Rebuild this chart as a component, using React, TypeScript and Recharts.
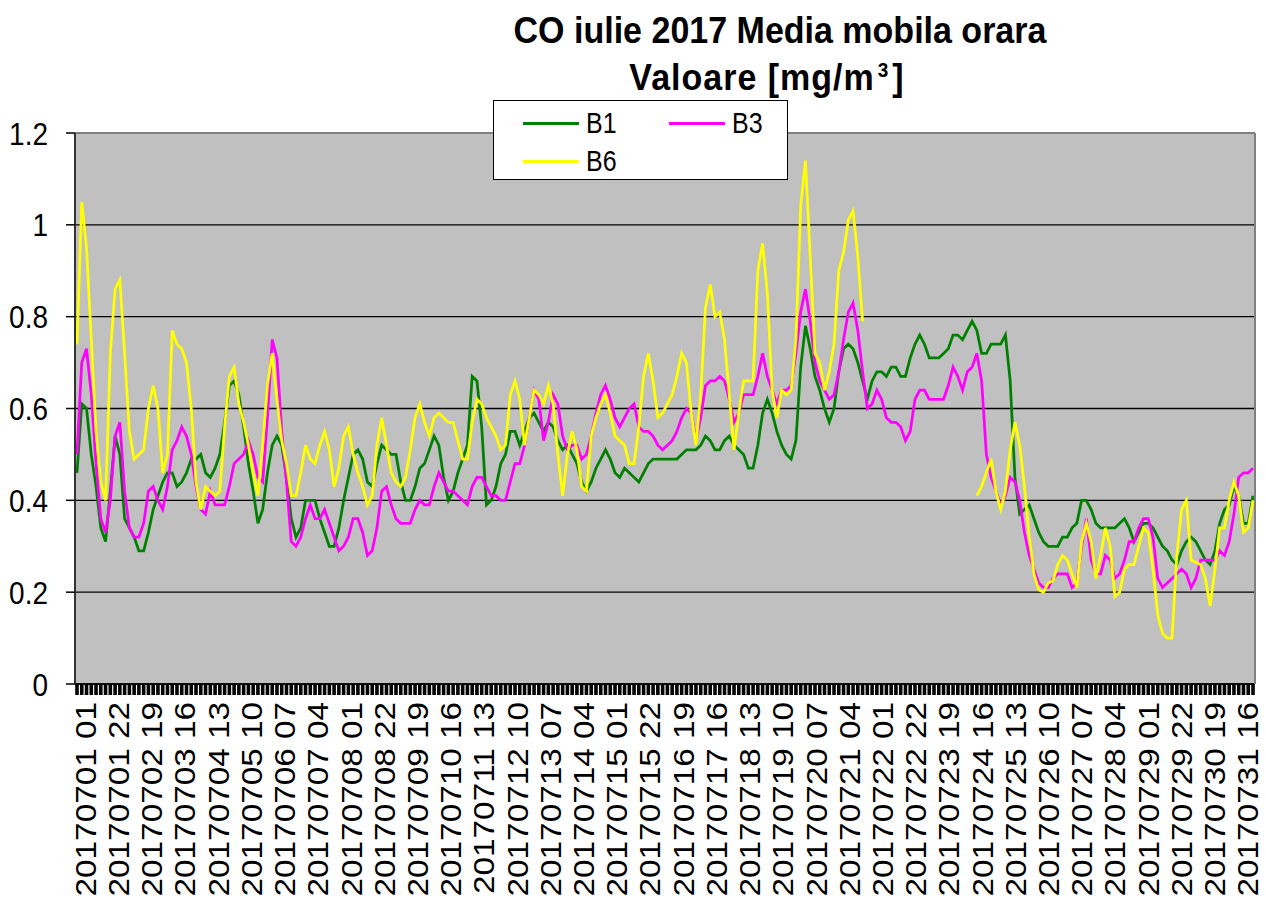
import React from 'react';
import { LineChart, Line, XAxis, YAxis, CartesianGrid, Legend, ReferenceLine } from 'recharts';

// one sample every 3 hours, starting 20170701 01 (248 samples)
const TICK_LABELS = [
  '20170701 01', '20170701 22', '20170702 19', '20170703 16', '20170704 13', '20170705 10',
  '20170706 07', '20170707 04', '20170708 01', '20170708 22', '20170709 19', '20170710 16',
  '20170711 13', '20170712 10', '20170713 07', '20170714 04', '20170715 01', '20170715 22',
  '20170716 19', '20170717 16', '20170718 13', '20170719 10', '20170720 07', '20170721 04',
  '20170722 01', '20170722 22', '20170723 19', '20170724 16', '20170725 13', '20170726 10',
  '20170727 07', '20170728 04', '20170729 01', '20170729 22', '20170730 19', '20170731 16',
];

const B1 = [
  0.46, 0.61, 0.60, 0.50, 0.43, 0.34, 0.31, 0.42, 0.54, 0.50,
  0.36, 0.34, 0.32, 0.29, 0.29, 0.33, 0.38, 0.41, 0.44, 0.46,
  0.46, 0.43, 0.44, 0.46, 0.49, 0.49, 0.50, 0.46, 0.45, 0.47,
  0.50, 0.57, 0.65, 0.66, 0.63, 0.56, 0.48, 0.42, 0.35, 0.38,
  0.46, 0.52, 0.54, 0.52, 0.45, 0.36, 0.32, 0.34, 0.40, 0.40,
  0.40, 0.36, 0.33, 0.30, 0.30, 0.34, 0.40, 0.45, 0.50, 0.51,
  0.49, 0.44, 0.43, 0.48, 0.52, 0.51, 0.50, 0.50, 0.44, 0.40,
  0.40, 0.43, 0.47, 0.48, 0.51, 0.54, 0.52, 0.45, 0.40, 0.42,
  0.46, 0.49, 0.52, 0.67, 0.66, 0.56, 0.39, 0.40, 0.43, 0.48,
  0.50, 0.55, 0.55, 0.52, 0.55, 0.58, 0.59, 0.57, 0.55, 0.57,
  0.56, 0.53, 0.51, 0.52, 0.50, 0.48, 0.44, 0.42, 0.44, 0.47,
  0.49, 0.51, 0.49, 0.46, 0.45, 0.47, 0.46, 0.45, 0.44, 0.46,
  0.48, 0.49, 0.49, 0.49, 0.49, 0.49, 0.49, 0.50, 0.51, 0.51,
  0.51, 0.52, 0.54, 0.53, 0.51, 0.51, 0.53, 0.54, 0.52, 0.51,
  0.50, 0.47, 0.47, 0.52, 0.59, 0.62, 0.59, 0.55, 0.52, 0.50,
  0.49, 0.53, 0.69, 0.78, 0.73, 0.67, 0.64, 0.60, 0.57, 0.60,
  0.68, 0.73, 0.74, 0.73, 0.70, 0.66, 0.62, 0.66, 0.68, 0.68,
  0.67, 0.69, 0.69, 0.67, 0.67, 0.71, 0.74, 0.76, 0.74, 0.71,
  0.71, 0.71, 0.72, 0.73, 0.76, 0.76, 0.75, 0.77, 0.79, 0.77,
  0.72, 0.72, 0.74, 0.74, 0.74, 0.76, 0.66, 0.45, 0.37, 0.38,
  0.39, 0.36, 0.33, 0.31, 0.30, 0.30, 0.30, 0.32, 0.32, 0.34,
  0.35, 0.40, 0.40, 0.38, 0.35, 0.34, 0.34, 0.34, 0.34, 0.35,
  0.36, 0.34, 0.31, 0.33, 0.35, 0.35, 0.34, 0.32, 0.30, 0.29,
  0.27, 0.26, 0.29, 0.31, 0.32, 0.31, 0.29, 0.27, 0.26, 0.29,
  0.35, 0.38, 0.39, 0.43, 0.41, 0.35, 0.35, 0.41,
];

const B3 = [
  0.50, 0.70, 0.73, 0.63, 0.48, 0.36, 0.33, 0.40, 0.54, 0.57,
  0.42, 0.34, 0.32, 0.32, 0.35, 0.42, 0.43, 0.40, 0.38, 0.43,
  0.51, 0.53, 0.56, 0.54, 0.50, 0.43, 0.38, 0.37, 0.42, 0.39,
  0.39, 0.39, 0.43, 0.48, 0.49, 0.50, 0.53, 0.50, 0.45, 0.44,
  0.58, 0.75, 0.71, 0.55, 0.44, 0.31, 0.30, 0.32, 0.36, 0.39,
  0.36, 0.36, 0.38, 0.35, 0.32, 0.29, 0.30, 0.32, 0.36, 0.36,
  0.33, 0.28, 0.29, 0.34, 0.42, 0.43, 0.39, 0.36, 0.35, 0.35,
  0.35, 0.38, 0.40, 0.39, 0.39, 0.43, 0.46, 0.44, 0.42, 0.42,
  0.41, 0.40, 0.39, 0.43, 0.45, 0.45, 0.43, 0.41, 0.41, 0.40,
  0.40, 0.44, 0.48, 0.48, 0.52, 0.58, 0.64, 0.62, 0.53, 0.57,
  0.63, 0.61, 0.54, 0.51, 0.52, 0.52, 0.49, 0.50, 0.54, 0.59,
  0.63, 0.65, 0.62, 0.58, 0.56, 0.58, 0.60, 0.61, 0.56, 0.55,
  0.55, 0.54, 0.52, 0.51, 0.52, 0.53, 0.55, 0.58, 0.60, 0.59,
  0.53, 0.58, 0.65, 0.66, 0.66, 0.67, 0.66, 0.62, 0.57, 0.59,
  0.63, 0.63, 0.63, 0.67, 0.72, 0.67, 0.64, 0.61, 0.64, 0.64,
  0.65, 0.72, 0.81, 0.86, 0.79, 0.70, 0.66, 0.64, 0.62, 0.63,
  0.68, 0.75, 0.81, 0.83, 0.77, 0.68, 0.60, 0.61, 0.64, 0.62,
  0.58, 0.57, 0.57, 0.56, 0.53, 0.55, 0.62, 0.64, 0.64, 0.62,
  0.62, 0.62, 0.62, 0.65, 0.69, 0.67, 0.64, 0.68, 0.69, 0.72,
  0.66, 0.50, 0.45, 0.42, 0.39, 0.41, 0.45, 0.44, 0.40, 0.33,
  0.28, 0.25, 0.22, 0.21, 0.21, 0.23, 0.24, 0.24, 0.24, 0.21,
  0.22, 0.30, 0.36, 0.27, 0.24, 0.24, 0.28, 0.27, 0.23, 0.24,
  0.27, 0.31, 0.31, 0.34, 0.36, 0.36, 0.32, 0.23, 0.21, 0.22,
  0.23, 0.24, 0.25, 0.24, 0.21, 0.23, 0.27, 0.27, 0.27, 0.27,
  0.29, 0.28, 0.31, 0.37, 0.45, 0.46, 0.46, 0.47,
];

// B6 has no data from 20170721 ~10 to 20170724 ~16
const B6 = [
  0.74, 1.05, 0.95, 0.75, 0.55, 0.44, 0.40, 0.72, 0.86, 0.88,
  0.72, 0.55, 0.49, 0.50, 0.51, 0.60, 0.65, 0.60, 0.46, 0.50,
  0.77, 0.74, 0.73, 0.70, 0.60, 0.44, 0.38, 0.43, 0.42, 0.41,
  0.42, 0.56, 0.67, 0.69, 0.61, 0.57, 0.52, 0.46, 0.41, 0.52,
  0.65, 0.72, 0.62, 0.53, 0.48, 0.41, 0.41, 0.46, 0.52, 0.49,
  0.48, 0.52, 0.55, 0.51, 0.43, 0.47, 0.54, 0.56, 0.50, 0.46,
  0.43, 0.39, 0.41, 0.52, 0.58, 0.52, 0.46, 0.44, 0.43, 0.45,
  0.51, 0.58, 0.61, 0.57, 0.54, 0.58, 0.59, 0.58, 0.57, 0.57,
  0.53, 0.49, 0.49, 0.57, 0.62, 0.61, 0.58, 0.56, 0.54, 0.51,
  0.52, 0.63, 0.66, 0.62, 0.52, 0.58, 0.64, 0.63, 0.61, 0.65,
  0.61, 0.50, 0.41, 0.50, 0.55, 0.51, 0.43, 0.42, 0.54, 0.58,
  0.61, 0.63, 0.59, 0.54, 0.53, 0.52, 0.48, 0.48, 0.56, 0.67,
  0.72, 0.66, 0.58, 0.59, 0.61, 0.63, 0.67, 0.72, 0.70, 0.59,
  0.52, 0.63, 0.82, 0.87, 0.80, 0.81, 0.75, 0.63, 0.51, 0.59,
  0.66, 0.66, 0.66, 0.90, 0.96, 0.85, 0.64, 0.58, 0.64, 0.63,
  0.64, 0.75, 1.04, 1.14, 0.93, 0.72, 0.70, 0.64, 0.68, 0.74,
  0.90, 0.94, 1.01, 1.03, 0.93, 0.79, null, null, null, null,
  null, null, null, null, null, null, null, null, null, null,
  null, null, null, null, null, null, null, null, null, 0.41,
  0.43, 0.46, 0.49, 0.42, 0.38, 0.42, 0.51, 0.57, 0.52, 0.43,
  0.32, 0.24, 0.205, 0.20, 0.22, 0.225, 0.26, 0.28, 0.27, 0.24,
  0.21, 0.31, 0.35, 0.31, 0.23, 0.28, 0.34, 0.30, 0.19, 0.20,
  0.25, 0.26, 0.26, 0.30, 0.34, 0.33, 0.25, 0.15, 0.11, 0.10,
  0.10, 0.28, 0.38, 0.40, 0.27, 0.265, 0.26, 0.23, 0.17, 0.25,
  0.34, 0.34, 0.40, 0.44, 0.41, 0.33, 0.34, 0.40,
];

const SERIES = [
  { key: 'b1', name: 'B1', color: '#008000' },
  { key: 'b3', name: 'B3', color: '#FF00FF' },
  { key: 'b6', name: 'B6', color: '#FFFF00' },
];

const Y_TICKS = [0, 0.2, 0.4, 0.6, 0.8, 1, 1.2];
const LABEL_EVERY = 7; // 21 hours

const FONT = '"Liberation Sans", Arial, sans-serif';

const data = B1.map((v, k) => ({ k, b1: v, b3: B3[k], b6: B6[k] }));

function HourTick({ x, y, payload }: any) {
  const k = payload.value;
  if (k % LABEL_EVERY !== 0) return <g />;
  // excel puts the rotated labels a little right of the tick
  const shift = 8 - (4 * k) / 245;
  return (
    <text
      transform={`translate(${x + shift},${y}) rotate(-90) scale(1.11,1)`}
      textAnchor="end"
      dy="0.36em"
      fontSize={30}
      fontFamily={FONT}
      fill="#000"
    >
      {TICK_LABELS[k / LABEL_EVERY]}
    </text>
  );
}

function ValueTick({ x, y, payload }: any) {
  return (
    <text
      transform={`translate(${x},${y}) scale(1,1.15)`}
      textAnchor="end"
      dy="0.36em"
      fontSize={28}
      fontFamily={FONT}
      fill="#000"
    >
      {String(payload.value)}
    </text>
  );
}

function LegendBox({ payload }: any) {
  const slots = [
    { left: 29, top: 22 },
    { left: 175, top: 22 },
    { left: 29, top: 60 },
  ];
  return (
    <div
      style={{
        position: 'relative',
        width: 295,
        height: 80,
        background: '#fff',
        border: '1.5px solid #000',
        boxSizing: 'border-box',
        fontFamily: FONT,
      }}
    >
      {(payload || []).map((entry: any, i: number) => (
        <div key={entry.value} style={{ position: 'absolute', left: slots[i].left, top: slots[i].top - 15 }}>
          <span
            style={{
              position: 'absolute',
              left: 0,
              top: 14,
              width: 56,
              height: 3,
              background: entry.color,
            }}
          />
          <span
            style={{
              position: 'absolute',
              left: 63,
              top: 0,
              fontSize: 25,
              lineHeight: '30px',
              whiteSpace: 'nowrap',
              transform: 'scaleY(1.15)',
            }}
          >
            {entry.value}
          </span>
        </div>
      ))}
    </div>
  );
}

const titleStyle: React.CSSProperties = {
  position: 'absolute',
  transform: 'translateX(-50%) scaleY(1.06)',
  whiteSpace: 'nowrap',
  fontFamily: FONT,
  fontWeight: 'bold',
  fontSize: 34,
  lineHeight: '34px',
  zIndex: 2,
};

export default function App() {
  return (
    <div style={{ position: 'absolute', left: 0, top: 0, width: 1266, height: 901, background: '#fff' }}>
      <div style={{ ...titleStyle, left: 780, top: 13 }}>CO iulie 2017 Media mobila orara</div>
      <div style={{ ...titleStyle, left: 767, top: 60, letterSpacing: 1 }}>
        Valoare [mg/m<sup style={{ fontSize: 19, verticalAlign: 'top', lineHeight: '22px', margin: '0 3px' }}>3</sup>]
      </div>
      <LineChart
        width={1266}
        height={901}
        data={data}
        margin={{ top: 133, right: 10, bottom: 6, left: 15 }}
      >
        <CartesianGrid fill="#C0C0C0" stroke="#000" strokeWidth={1.3} vertical={false} />
        <XAxis
          dataKey="k"
          type="category"
          interval={0}
          padding={{ left: 2, right: 2 }}
          height={211}
          tick={<HourTick />}
          tickSize={11}
          tickMargin={7}
          tickLine={{ stroke: '#000', strokeWidth: 3.6 }}
          axisLine={{ stroke: '#000', strokeWidth: 1.5 }}
        />
        <YAxis
          width={60}
          domain={[0, 1.2]}
          ticks={Y_TICKS}
          interval={0}
          tick={<ValueTick />}
          tickSize={9}
          tickMargin={18}
          tickLine={{ stroke: '#000', strokeWidth: 1.5 }}
          axisLine={{ stroke: '#333', strokeWidth: 2 }}
        />
        <YAxis
          yAxisId="frame"
          orientation="right"
          width={1}
          domain={[0, 1.2]}
          tick={false}
          tickLine={false}
          axisLine={{ stroke: '#808080', strokeWidth: 2 }}
        />
        <ReferenceLine y={1.2} stroke="#808080" strokeWidth={2} />
        <Legend
          layout="horizontal"
          verticalAlign="middle"
          align="center"
          content={<LegendBox />}
          wrapperStyle={{ position: 'absolute', left: 493, top: 100, width: 295, height: 80 }}
        />
        {SERIES.map((s) => (
          <Line
            key={s.key}
            type="linear"
            dataKey={s.key}
            name={s.name}
            stroke={s.color}
            strokeWidth={2.75}
            dot={false}
            activeDot={false}
            isAnimationActive={false}
          />
        ))}
      </LineChart>
    </div>
  );
}
